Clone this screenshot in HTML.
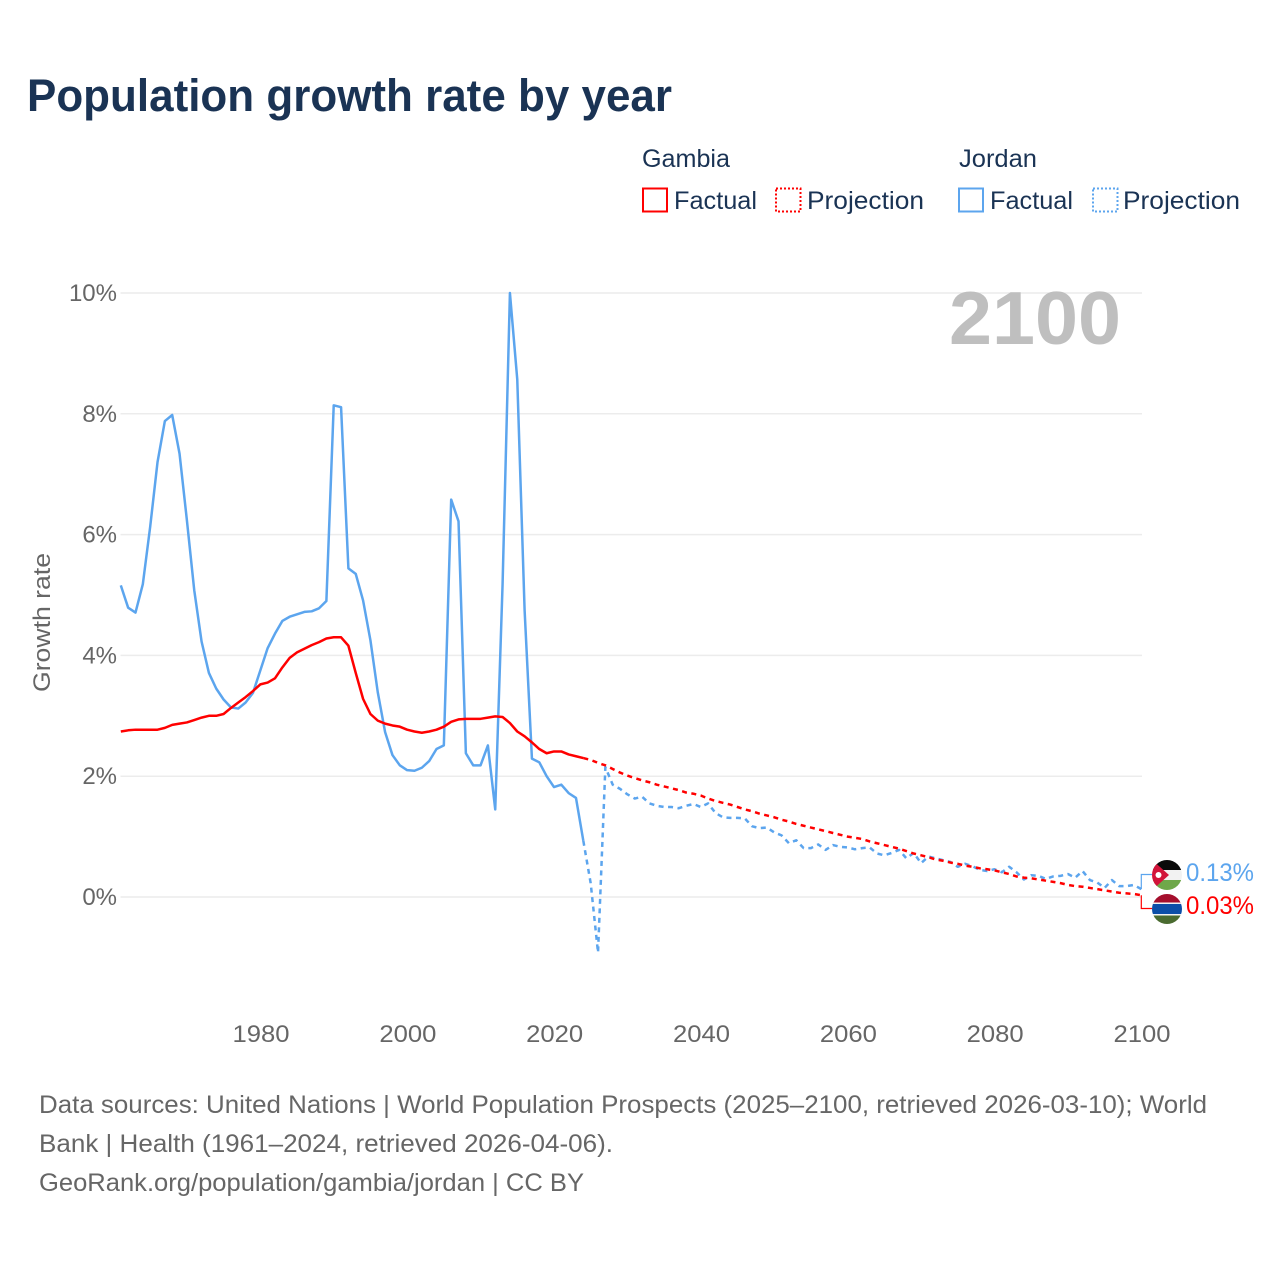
<!DOCTYPE html>
<html lang="en">
<head>
<meta charset="utf-8">
<title>Population growth rate by year</title>
<style>
html,body{margin:0;padding:0;background:#fff;width:1280px;height:1280px;overflow:hidden}
svg{display:block}
text{font-family:"Liberation Sans",sans-serif}
</style>
</head>
<body>
<svg id="chart" xmlns="http://www.w3.org/2000/svg" width="1280" height="1280" viewBox="0 0 1280 1280">
  <rect x="0" y="0" width="1280" height="1280" fill="#fff"/>
  <text x="27" y="111" font-size="45" font-weight="700" fill="#1a3354" textLength="645" lengthAdjust="spacingAndGlyphs">Population growth rate by year</text>

  <g font-size="25" fill="#1a3354">
    <text x="642" y="167" textLength="88" lengthAdjust="spacingAndGlyphs">Gambia</text>
    <text x="959" y="167" textLength="78" lengthAdjust="spacingAndGlyphs">Jordan</text>
    <rect x="643" y="188.500" width="24" height="23" fill="none" stroke="#ff0000" stroke-width="2"/>
    <text x="674" y="209" textLength="83" lengthAdjust="spacingAndGlyphs">Factual</text>
    <rect x="776" y="188.500" width="24.500" height="23" fill="none" stroke="#ff0000" stroke-width="2" stroke-dasharray="2 2"/>
    <text x="807" y="209" textLength="117" lengthAdjust="spacingAndGlyphs">Projection</text>
    <rect x="959" y="188.500" width="24" height="23" fill="none" stroke="#5ca5ee" stroke-width="2"/>
    <text x="990" y="209" textLength="83" lengthAdjust="spacingAndGlyphs">Factual</text>
    <rect x="1093" y="188.500" width="24.500" height="23" fill="none" stroke="#5ca5ee" stroke-width="2" stroke-dasharray="2 2"/>
    <text x="1123" y="209" textLength="117" lengthAdjust="spacingAndGlyphs">Projection</text>
  </g>

  <text transform="translate(50,622.500) rotate(-90)" text-anchor="middle" font-size="24" fill="#666" textLength="139" lengthAdjust="spacingAndGlyphs">Growth rate</text>
  <g id="grid"></g>
  <g id="yticks"></g>
  <g id="xticks"></g>
  <text x="949" y="344" font-size="75" font-weight="700" fill="#bfbfbf" textLength="172" lengthAdjust="spacingAndGlyphs">2100</text>
  <g id="series"></g>

  <defs>
    <clipPath id="clip-jordan"><circle cx="1167" cy="875" r="15"/></clipPath>
    <clipPath id="clip-gambia"><circle cx="1167" cy="909" r="15"/></clipPath>
  </defs>
  <g clip-path="url(#clip-jordan)">
    <rect x="1152" y="860" width="30" height="10" fill="#0a0a0a"/>
    <rect x="1152" y="870" width="30" height="10" fill="#f2f2f2"/>
    <rect x="1152" y="880" width="30" height="10" fill="#6fa84a"/>
    <polygon points="1150,858 1169,875 1150,892" fill="#d2143a"/>
    <circle cx="1158.500" cy="875" r="3" fill="#fff"/>
  </g>
  <g clip-path="url(#clip-gambia)">
    <rect x="1152" y="894" width="30" height="10" fill="#a50f2d"/>
    <rect x="1152" y="902.500" width="30" height="13" fill="#f2f2f2"/>
    <rect x="1152" y="904" width="30" height="10" fill="#0c4ea8"/>
    <rect x="1152" y="915.500" width="30" height="9" fill="#4a6b30"/>
  </g>
  <text x="1186" y="881" font-size="25" fill="#5ca5ee" textLength="68" lengthAdjust="spacingAndGlyphs">0.13%</text>
  <text x="1186" y="914" font-size="25" fill="#ff0000" textLength="68" lengthAdjust="spacingAndGlyphs">0.03%</text>

  <g font-size="25" fill="#666">
    <text x="39" y="1113" textLength="1168" lengthAdjust="spacingAndGlyphs">Data sources: United Nations | World Population Prospects (2025–2100, retrieved 2026-03-10); World</text>
    <text x="39" y="1152" textLength="574" lengthAdjust="spacingAndGlyphs">Bank | Health (1961–2024, retrieved 2026-04-06).</text>
    <text x="39" y="1191" textLength="545" lengthAdjust="spacingAndGlyphs">GeoRank.org/population/gambia/jordan | CC BY</text>
  </g>
</svg>
<script>
const factualStartYear = 1961;
const projectionStartYear = 2024;
const xTickYears = [1980, 2000, 2020, 2040, 2060, 2080, 2100];
const yTickValues = [0, 2, 4, 6, 8, 10];
const yTickLabels = ["0%", "2%", "4%", "6%", "8%", "10%"];

const gambiaFactual = [
  2.74, 2.76, 2.77, 2.77, 2.77, 2.77, 2.80, 2.85, 2.87, 2.89,
  2.93, 2.97, 3.00, 3.00, 3.03, 3.13, 3.22, 3.31, 3.41, 3.52,
  3.55, 3.62, 3.80, 3.96, 4.05, 4.11, 4.17, 4.22, 4.28, 4.30,
  4.30, 4.16, 3.71, 3.28, 3.03, 2.92, 2.87, 2.84, 2.82, 2.77,
  2.74, 2.72, 2.74, 2.77, 2.82, 2.90, 2.94, 2.95, 2.95, 2.95,
  2.97, 2.99, 2.98, 2.88, 2.74, 2.66, 2.56, 2.45, 2.38, 2.41,
  2.41, 2.36, 2.33, 2.30
];
const gambiaProjection = [
  2.30, 2.27, 2.22, 2.18, 2.12, 2.06, 2.01, 1.97, 1.93, 1.90,
  1.86, 1.83, 1.80, 1.77, 1.73, 1.71, 1.68, 1.63, 1.59, 1.56,
  1.53, 1.49, 1.45, 1.42, 1.38, 1.35, 1.32, 1.28, 1.25, 1.21,
  1.18, 1.15, 1.12, 1.09, 1.06, 1.03, 1.00, 0.98, 0.96, 0.92,
  0.89, 0.86, 0.83, 0.80, 0.76, 0.72, 0.69, 0.66, 0.62, 0.60,
  0.57, 0.55, 0.52, 0.50, 0.475, 0.46, 0.44, 0.41, 0.38, 0.34,
  0.32, 0.31, 0.29, 0.27, 0.25, 0.23, 0.20, 0.18, 0.17, 0.15,
  0.13, 0.11, 0.09, 0.07, 0.06, 0.05, 0.03
];
const jordanFactual = [
  5.16, 4.79, 4.71, 5.18, 6.13, 7.20, 7.88, 7.98, 7.34, 6.24,
  5.08, 4.23, 3.71, 3.45, 3.27, 3.14, 3.12, 3.22, 3.38, 3.75,
  4.12, 4.36, 4.57, 4.64, 4.68, 4.72, 4.73, 4.78, 4.90, 8.14,
  8.11, 5.44, 5.35, 4.91, 4.25, 3.39, 2.73, 2.35, 2.18, 2.10,
  2.09, 2.14, 2.25, 2.45, 2.51, 6.58, 6.22, 2.38, 2.18, 2.18,
  2.51, 1.45, 5.18, 10.0, 8.57, 4.75, 2.29, 2.23, 2.00, 1.82,
  1.86, 1.72, 1.64, 0.93
];
const jordanProjection = [
  0.93, 0.23, -0.92, 2.15, 1.86, 1.79, 1.70, 1.63, 1.66, 1.55,
  1.51, 1.49, 1.49, 1.47, 1.51, 1.54, 1.49, 1.55, 1.39, 1.32,
  1.31, 1.31, 1.30, 1.17, 1.14, 1.15, 1.07, 1.02, 0.89, 0.94,
  0.81, 0.81, 0.87, 0.78, 0.86, 0.83, 0.82, 0.79, 0.81, 0.82,
  0.72, 0.69, 0.73, 0.78, 0.64, 0.73, 0.56, 0.67, 0.64, 0.61,
  0.58, 0.50, 0.55, 0.51, 0.45, 0.43, 0.46, 0.41, 0.50, 0.41,
  0.29, 0.36, 0.35, 0.30, 0.34, 0.35, 0.38, 0.32, 0.43, 0.28,
  0.24, 0.15, 0.28, 0.18, 0.18, 0.20, 0.13
];

const SVG_NS = "http://www.w3.org/2000/svg";
const BLUE = "#5ca5ee";
const RED = "#ff0000";

function xScale(year) {
  return 260.3 + (year - 1980) * (1141.3 - 260.3) / 120;
}
function yScale(value) {
  return 897 - value * 60.4;
}
function linePath(values, startYear) {
  return values.map(function (v, i) {
    return (i ? "L" : "M") + xScale(startYear + i).toFixed(2) + " " + yScale(v).toFixed(2);
  }).join(" ");
}

const grid = document.getElementById("grid");
const yticks = document.getElementById("yticks");
const xticks = document.getElementById("xticks");
const seriesGroup = document.getElementById("series");

yTickValues.forEach(function (v, i) {
  const line = document.createElementNS(SVG_NS, "line");
  
  
  line.setAttribute("x1", 120.5);
  line.setAttribute("x2", 1142);
  line.setAttribute("y1", yScale(v));
  line.setAttribute("y2", yScale(v));
  line.setAttribute("stroke", "#ececec");
  line.setAttribute("stroke-width", 1.5);
  grid.appendChild(line);

  const label = document.createElementNS(SVG_NS, "text");
  
  
  label.setAttribute("x", 117);
  label.setAttribute("y", yScale(v) + 8);
  label.setAttribute("text-anchor", "end");
  label.setAttribute("font-size", 24);
  label.setAttribute("fill", "#666");
  label.textContent = yTickLabels[i];
  yticks.appendChild(label);
});

xTickYears.forEach(function (year) {
  const label = document.createElementNS(SVG_NS, "text");
  
  
  label.setAttribute("x", xScale(year) + 0.7);
  label.setAttribute("y", 1042);
  label.setAttribute("text-anchor", "middle");
  label.setAttribute("font-size", 24);
  label.setAttribute("fill", "#666");
  label.setAttribute("textLength", 57);
  label.setAttribute("lengthAdjust", "spacingAndGlyphs");
  label.textContent = String(year);
  xticks.appendChild(label);
});

function addLine(name, values, startYear, color, dashed) {
  const path = document.createElementNS(SVG_NS, "path");
  
  
  path.setAttribute("d", linePath(values, startYear));
  path.setAttribute("fill", "none");
  path.setAttribute("stroke", color);
  path.setAttribute("stroke-width", 2.5);
  path.setAttribute("stroke-linejoin", "round");
  if (dashed) {
    path.setAttribute("stroke-dasharray", "5 4.5");
  }
  seriesGroup.appendChild(path);
}

addLine("jordan-factual-line", jordanFactual, factualStartYear, BLUE, false);
addLine("jordan-projection-line", jordanProjection, projectionStartYear, BLUE, true);
addLine("gambia-factual-line", gambiaFactual, factualStartYear, RED, false);
addLine("gambia-projection-line", gambiaProjection, projectionStartYear, RED, true);

function addConnector(name, values, flagY, color) {
  const endX = xScale(2100);
  const endY = yScale(values[values.length - 1]);
  const path = document.createElementNS(SVG_NS, "path");
  
  
  path.setAttribute("d", "M" + endX + " " + endY.toFixed(2) + " V" + flagY + " H1152");
  path.setAttribute("fill", "none");
  path.setAttribute("stroke", color);
  path.setAttribute("stroke-width", 1.2);
  seriesGroup.appendChild(path);
}
addConnector("jordan-end-connector", jordanProjection, 874.5, BLUE);
addConnector("gambia-end-connector", gambiaProjection, 908.5, RED);
</script>
</body>
</html>
